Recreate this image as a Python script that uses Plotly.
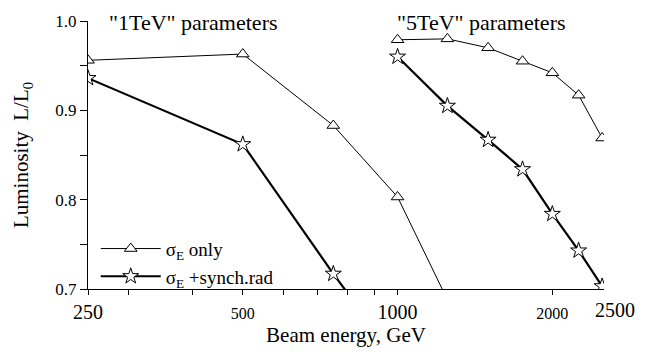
import math
import plotly.graph_objects as go

# ---- data ----
energy_1tev = [250, 500, 750, 1000, 1250]
lum_1tev_sigma = [0.956, 0.963, 0.883, 0.803, 0.688]
energy_1tev_synch = [250, 500, 750, 1000]
lum_1tev_synch = [0.936, 0.862, 0.717, 0.620]

energy_5tev = [1000, 1250, 1500, 1750, 2000, 2250, 2500]
lum_5tev_sigma = [0.979, 0.980, 0.970, 0.955, 0.942, 0.917, 0.869]
lum_5tev_synch = [0.960, 0.905, 0.867, 0.834, 0.784, 0.743, 0.703]

x_tickvals = [250, 300, 400, 500, 600, 700, 800, 900, 1000, 2000]
x_ticklabels = ["250", "", "", "500", "", "", "", "", "1000", "2000"]
small_labels = {"500", "2000"}
x_last_label = 2500
y_tickvals = [0.7, 0.8, 0.9, 1.0]
y_ticklabels = ["0.7", "0.8", "0.9", "1.0"]
y_minor = [0.75, 0.85, 0.95]

FONT = "Liberation Serif, Times New Roman, serif"

tri_marker = dict(symbol="triangle-up", size=11, color="white",
                  line=dict(color="black", width=1))
star_marker = dict(symbol="star", size=12, color="white",
                   line=dict(color="black", width=1))

fig = go.Figure()
fig.add_trace(go.Scatter(x=energy_1tev, y=lum_1tev_sigma, mode="lines+markers",
                         name="σ<sub>E</sub> only", legendgroup="a",
                         line=dict(color="black", width=1), marker=tri_marker))
fig.add_trace(go.Scatter(x=energy_1tev_synch, y=lum_1tev_synch, mode="lines+markers",
                         name="σ<sub>E</sub> +synch.rad", legendgroup="b",
                         line=dict(color="black", width=2.2), marker=star_marker))
fig.add_trace(go.Scatter(x=energy_5tev, y=lum_5tev_sigma, mode="lines+markers",
                         showlegend=False, legendgroup="a",
                         line=dict(color="black", width=1), marker=tri_marker))
fig.add_trace(go.Scatter(x=energy_5tev, y=lum_5tev_synch, mode="lines+markers",
                         showlegend=False, legendgroup="b",
                         line=dict(color="black", width=2.2), marker=star_marker))

ticktext = [
    (f'<span style="font-size:16px">{t}</span>' if t in small_labels else t)
    for t in x_ticklabels
]

fig.update_layout(
    width=649, height=354,
    margin=dict(l=88, r=45, t=16, b=54),
    paper_bgcolor="white", plot_bgcolor="white",
    font=dict(family=FONT, color="black", size=20),
    showlegend=True,
    legend=dict(x=0.015, y=-0.025, xanchor="left", yanchor="bottom",
                bgcolor="rgba(0,0,0,0)", font=dict(size=19, family=FONT),
                itemwidth=60, tracegroupgap=0),
    xaxis=dict(type="log", range=[2.3979, 3.4015],
               tickmode="array", tickvals=x_tickvals, ticktext=ticktext,
               ticks="outside", ticklen=5, tickwidth=1, tickcolor="black",
               showline=True, linecolor="black", linewidth=1,
               showgrid=False, zeroline=False, mirror=False,
               tickfont=dict(size=20, family=FONT),
               title=dict(text="Beam energy, GeV", font=dict(size=21, family=FONT),
                          standoff=4)),
    yaxis=dict(range=[0.7, 1.0], tickmode="array", tickvals=y_tickvals,
               ticktext=y_ticklabels,
               ticks="outside", ticklen=7, tickwidth=1, tickcolor="black",
               minor=dict(tickvals=y_minor, ticks="outside",
                          ticklen=7, tickcolor="black", showgrid=False),
               showline=True, linecolor="black", linewidth=1,
               showgrid=False, zeroline=False, mirror=False,
               tickfont=dict(size=17, family=FONT),
               title=dict(text="Luminosity  L/L<sub>0</sub>",
                          font=dict(size=21, family=FONT), standoff=20)),
    annotations=[
        dict(text='"1TeV" parameters', xref="paper", yref="paper",
             x=0.2035, y=0.993, xanchor="center", yanchor="middle",
             showarrow=False, font=dict(size=22, family=FONT)),
        dict(text='"5TeV" parameters', xref="paper", yref="paper",
             x=0.763, y=0.993, xanchor="center", yanchor="middle",
             showarrow=False, font=dict(size=22, family=FONT)),
        dict(text=str(x_last_label), xref="x", yref="paper",
             x=math.log10(x_last_label), y=0, xanchor="center", yanchor="top",
             xshift=13, yshift=-8, showarrow=False,
             font=dict(size=20, family=FONT)),
    ],
)

fig.write_html("out.html")
